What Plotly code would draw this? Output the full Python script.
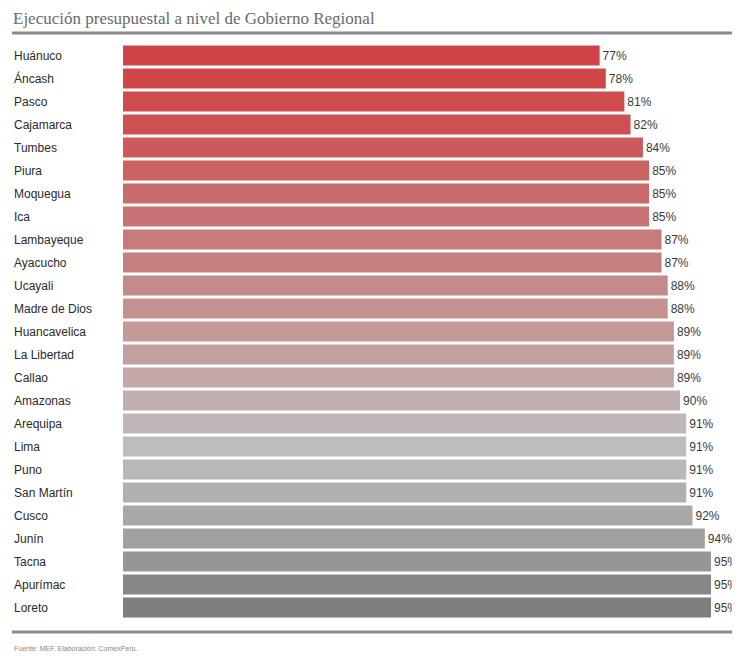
import plotly.graph_objects as go

regiones = ['Huánuco', 'Áncash', 'Pasco', 'Cajamarca', 'Tumbes', 'Piura', 'Moquegua', 'Ica',
            'Lambayeque', 'Ayacucho', 'Ucayali', 'Madre de Dios', 'Huancavelica', 'La Libertad',
            'Callao', 'Amazonas', 'Arequipa', 'Lima', 'Puno', 'San Martín', 'Cusco', 'Junín',
            'Tacna', 'Apurímac', 'Loreto']
ejecucion = [77, 78, 81, 82, 84, 85, 85, 85, 87, 87, 88, 88, 89, 89, 89, 90, 91, 91, 91, 91,
             92, 94, 95, 95, 95]

titulo = 'Ejecución presupuestal a nivel de Gobierno Regional'
fuente = 'Fuente: MEF. Elaboración: ComexPerú.'

# bar colours, red fading into grey
bar_colors = ['#D04448', '#D0474A', '#CF4C4E', '#CE5052', '#CB5A5A', '#CA6464', '#C96B6B',
              '#C77373', '#C77B7B', '#C68080', '#C58A8A', '#C49090', '#C39898', '#C3A0A0',
              '#C2A8A8', '#C2B0B0', '#C0B8B8', '#BFBCBC', '#B8B8B8', '#B0B0B0', '#A8A8A8',
              '#A0A0A0', '#969696', '#878787', '#7E7E7E']

# page body has an 8px margin, so the figure is drawn 8px in from the window corner
OFF = 8
W, H = 740 - OFF, 656 - OFF
m_l, m_r, m_t, m_b = 123 - OFF, 20, 44 - OFF, 37


def px_x(px):
    # window pixel -> paper x
    return (px - OFF - m_l) / (W - m_l - m_r)


def px_y(py):
    # window pixel -> paper y
    return (H - m_b - (py - OFF)) / (H - m_t - m_b)


fig = go.Figure(go.Bar(
    x=ejecucion, y=regiones, orientation='h',
    marker_color=bar_colors, marker_line_width=0,
    text=['{}%'.format(v) for v in ejecucion],
    textposition='outside', constraintext='none', cliponaxis=False,
    textfont={'family': 'Liberation Sans, Arial', 'size': 12, 'color': '#3a3a3a'},
))

annotations = [{'text': r, 'x': px_x(12), 'xref': 'paper', 'xanchor': 'left',
                'y': r, 'yref': 'y', 'showarrow': False,
                'font': {'family': 'Liberation Sans, Arial', 'size': 12, 'color': '#2a2a2a'}}
               for r in regiones]
annotations.append({'text': titulo, 'x': px_x(12), 'xref': 'paper', 'xanchor': 'left',
                    'y': px_y(OFF), 'yref': 'paper', 'yanchor': 'top', 'borderpad': 0,
                    'showarrow': False,
                    'font': {'family': 'Liberation Serif, Georgia, serif', 'size': 17, 'color': '#6a6a6a'}})
annotations.append({'text': fuente, 'x': px_x(12), 'xref': 'paper', 'xanchor': 'left',
                    'y': px_y(648), 'yref': 'paper', 'yanchor': 'middle', 'showarrow': False,
                    'font': {'family': 'Liberation Sans, Arial', 'size': 7, 'color': '#888888'}})

shapes = [
    {'type': 'line', 'xref': 'paper', 'yref': 'paper', 'x0': px_x(12), 'x1': px_x(740),
     'y0': px_y(33), 'y1': px_y(33), 'line': {'color': '#8a8a8a', 'width': 3}},
    {'type': 'line', 'xref': 'paper', 'yref': 'paper', 'x0': px_x(12), 'x1': px_x(740),
     'y0': px_y(632), 'y1': px_y(632), 'line': {'color': '#8a8a8a', 'width': 3}},
]

fig.update_layout(
    width=W, height=H,
    margin={'l': m_l, 'r': m_r, 't': m_t, 'b': m_b},
    paper_bgcolor='white', plot_bgcolor='white',
    showlegend=False, bargap=0.12,
    xaxis={'range': [0, 96.45], 'visible': False},
    yaxis={'autorange': 'reversed', 'showticklabels': False, 'showgrid': False,
           'zeroline': False, 'ticks': ''},
    annotations=annotations, shapes=shapes,
)

fig.write_html('out.html')
